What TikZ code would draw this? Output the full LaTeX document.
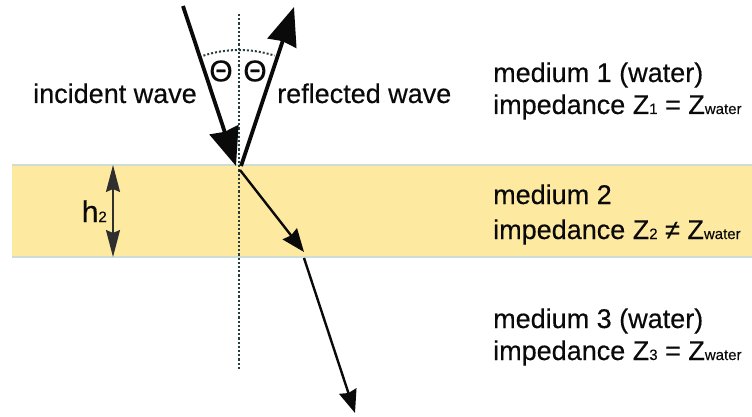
\documentclass[tikz,border=0pt]{standalone}
\usepackage{fontspec}
\setmainfont{Liberation Sans}[FakeBold=0.4]
\usetikzlibrary{arrows.meta}
\definecolor{bandfill}{RGB}{254,233,160}
\definecolor{bandline}{RGB}{205,220,212}
\definecolor{ink}{RGB}{10,10,10}
\definecolor{dots}{RGB}{40,62,62}
\newcommand{\sbs}[1]{{\fontsize{15}{15}\selectfont #1}}
\begin{document}
\begin{tikzpicture}[x=1pt,y=-1pt,
  lbl/.style={font=\fontsize{27}{32}\selectfont, text=ink, anchor=base west, inner sep=0pt},
  wave/.style={line width=3.8pt, draw=ink, -{Stealth[length=38pt,width=30pt,inset=2pt]}},
  trans/.style={line width=2.4pt, draw=ink, -{Stealth[length=23pt,width=18pt,inset=2pt]}},
  normal/.style={dotted, line width=2.2pt, draw=dots},
  dim/.style={line width=1.8pt, draw=ink!85, {Stealth[length=27pt,width=14pt,inset=3pt]}-{Stealth[length=27pt,width=14pt,inset=3pt]}}]
\useasboundingbox (0,0) rectangle (752,417);
% band
\fill[bandfill] (12,165) rectangle (752,257);
\draw[bandline, line width=1.2pt] (12,165) -- (752,165);
\draw[bandline, line width=1.2pt] (12,257) -- (752,257);
% points
\coordinate (O) at (239,165);
\coordinate (Otop) at (239,14);
\coordinate (Obot) at (239,370);
\coordinate (I) at (183,6);
\coordinate (Iend) at (236,166);
\coordinate (Rstart) at (241,166);
\coordinate (R) at (294,7);
\coordinate (T0) at (240,170);
\coordinate (T1) at (304,252);
\coordinate (T2) at (304,258);
\coordinate (T3) at (355,413);
\coordinate (H0) at (113,165);
\coordinate (H1) at (113,257);
% normal
\draw[normal] (Otop) -- (Obot);
% arc
\draw[dotted, line width=2pt, draw=dots] (O) ++(252:115) arc[start angle=252, end angle=288, radius=115];
% waves
\draw[wave] (I) -- (Iend);
\draw[wave] (Rstart) -- (R);
\draw[trans] (T0) -- (T1);
\draw[trans] (T2) -- (T3);
\draw[dim] (H0) -- (H1);
% labels
\node[lbl, anchor=center, font=\fontsize{30}{30}\selectfont] (th1) at (221,71) {Θ};
\node[lbl, anchor=center, font=\fontsize{30}{30}\selectfont] (th2) at (255,71) {Θ};
\node[lbl, anchor=base east] (inc) at (197,103) {incident wave};
\node[lbl] (ref) at (277,103) {reflected wave};
\node[lbl, anchor=base east, font=\fontsize{30}{30}\selectfont] (h2) at (107,222) {h\sbs{2}};
\node[lbl] (m1a) at (493,82) {medium 1 (water)};
\node[lbl] (m1b) at (493,114) {impedance Z\sbs{1} = Z\sbs{water}};
\node[lbl] (m2a) at (493,204) {medium 2};
\node[lbl] (m2b) at (493,239) {impedance Z\sbs{2} ≠ Z\sbs{water}};
\node[lbl] (m3a) at (493,328) {medium 3 (water)};
\node[lbl] (m3b) at (493,360) {impedance Z\sbs{3} = Z\sbs{water}};
\end{tikzpicture}
\end{document}
